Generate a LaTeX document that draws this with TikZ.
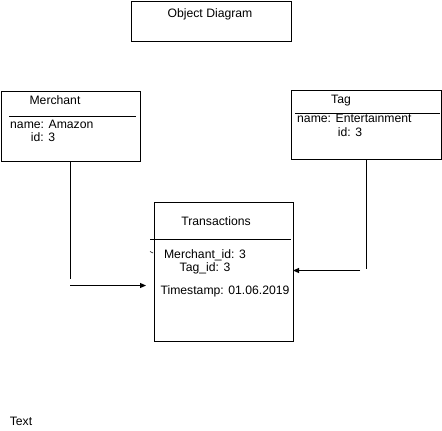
\documentclass[tikz,border=0pt]{standalone}
\usepackage{fontspec}
\setmainfont{Liberation Sans}
\usetikzlibrary{arrows.meta}
\begin{document}
\begin{tikzpicture}[x=1pt,y=-1pt,
  box/.style={draw,line width=1pt,rectangle,inner sep=0pt,anchor=north west},
  lbl/.style={inner sep=0pt,font=\fontsize{12.2}{14}\selectfont},
  conn/.style={line width=1pt},
  arr/.style={line width=1pt,-{Triangle[length=6pt,width=5pt]}}]
\useasboundingbox (0,0) rectangle (442,431);
% boxes
\node[box,minimum width=160pt,minimum height=40pt] (od) at (130.5,0.5) {};
\node[box,minimum width=139pt,minimum height=70pt] (mer) at (0.5,90.5) {};
\node[box,minimum width=150pt,minimum height=69pt] (tag) at (290.5,89.5) {};
\node[box,minimum width=139pt,minimum height=139pt] (tr) at (153.5,201.5) {};
% texts
\node[lbl] (odt) at (210,14) {Object Diagram};
\node[lbl] (mt) at (55,100) {Merchant};
\node[lbl,anchor=west] (mn) at (10,124) {name: Amazon};
\node[lbl] (mi) at (43,137) {id: 3};
\node[lbl] (tt) at (341,101) {Tag};
\node[lbl,anchor=west] (tn) at (297,118) {name: Entertainment};
\node[lbl] (ti) at (350,132) {id: 3};
\node[lbl] (trt) at (216,221) {Transactions};
\node[lbl] (trm) at (205,255) {Merchant\_id: 3};
\node[lbl] (trg) at (205,268) {Tag\_id: 3};
\node[lbl] (trs) at (225,291) {Timestamp: 01.06.2019};
\node[lbl] (txt) at (21,421) {Text};
% separators
\draw[conn] (9,116.5) -- (136,116.5);
\draw[conn] (295,113.5) -- (440,113.5);
\draw[conn] (150,239.5) -- (291,239.5);
\draw[line width=0.6pt] (150,251.5) -- (153,253);
% connectors
\coordinate (m1) at (70.5,279);
\coordinate (m2) at (70,285.5);
\coordinate (m3) at (146,285.5);
\coordinate (t0) at (366.5,159);
\coordinate (t1) at (366.5,269);
\coordinate (t2) at (360,270.5);
\coordinate (t3) at (293,270.5);
\draw[conn] (mer.south -| m1) -- (m1);
\draw[arr] (m2) -- (m3);
\draw[conn] (t0) -- (t1);
\draw[arr] (t2) -- (t3);
\end{tikzpicture}
\end{document}
